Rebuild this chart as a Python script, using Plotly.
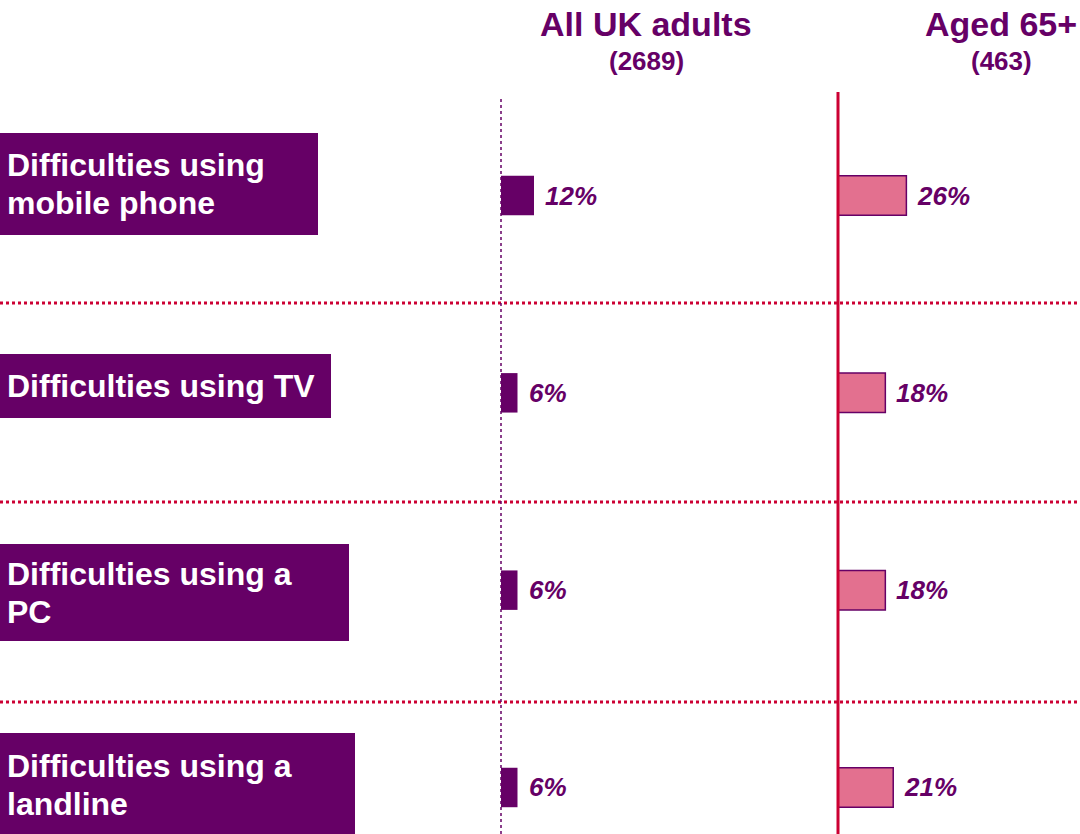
import plotly.graph_objects as go

# Survey results: share reporting difficulties with each device
categories = [
    "Difficulties using<br>mobile phone",
    "Difficulties using TV",
    "Difficulties using a<br>PC",
    "Difficulties using a<br>landline",
]
all_adults = [12, 6, 6, 6]
aged_65 = [26, 18, 18, 21]
group_titles = ["All UK adults", "Aged 65+"]
group_bases = ["(2689)", "(463)"]

PURPLE = "#660066"
PINK = "#E3708F"
RED = "#CC0033"
FONT = "Liberation Sans, Arial, sans-serif"

W, H = 1080, 834
row_ids = list(range(len(categories)))

fig = go.Figure()

fig.add_trace(go.Bar(
    y=row_ids, x=all_adults, orientation="h",
    xaxis="x", yaxis="y", width=0.2,
    marker=dict(color=PURPLE, line=dict(width=0)),
    hoverinfo="skip", showlegend=False,
))
fig.add_trace(go.Bar(
    y=row_ids, x=aged_65, orientation="h",
    xaxis="x2", yaxis="y", width=0.2,
    marker=dict(color=PINK, line=dict(color=PURPLE, width=1.5)),
    hoverinfo="skip", showlegend=False,
))

annotations = []
# value labels just past each bar end
for i, v in enumerate(all_adults):
    annotations.append(dict(
        x=v, y=i, xref="x", yref="y", text=f"<b><i>{v}%</i></b>",
        showarrow=False, xanchor="left", yanchor="middle", xshift=9,
        font=dict(family=FONT, size=26, color=PURPLE),
    ))
for i, v in enumerate(aged_65):
    annotations.append(dict(
        x=v, y=i, xref="x2", yref="y", text=f"<b><i>{v}%</i></b>",
        showarrow=False, xanchor="left", yanchor="middle", xshift=9,
        font=dict(family=FONT, size=26, color=PURPLE),
    ))

# column headings
for cx, title, base in zip([646 / W, 1001 / W], group_titles, group_bases):
    annotations.append(dict(
        x=cx, y=1 - 24 / H, xref="paper", yref="paper", text=f"<b>{title}</b>",
        showarrow=False, xanchor="center", yanchor="middle",
        font=dict(family=FONT, size=34, color=PURPLE),
    ))
    annotations.append(dict(
        x=cx, y=1 - 61 / H, xref="paper", yref="paper", text=f"<b>{base}</b>",
        showarrow=False, xanchor="center", yanchor="middle",
        font=dict(family=FONT, size=26, color=PURPLE),
    ))

# category label boxes on the left (tight line spacing inside each box)
boxes = [(0, 318, 133, 235, 184), (0, 331, 354, 418, 386),
         (0, 349, 544, 641, 593), (0, 355, 733, 840, 785)]
LINE_GAP = 38
shapes = []
for (x0, x1, y0, y1, yc), label in zip(boxes, categories):
    shapes.append(dict(
        type="rect", xref="paper", yref="paper",
        x0=x0 / W, x1=x1 / W, y0=1 - y1 / H, y1=1 - y0 / H,
        fillcolor=PURPLE, line=dict(width=0), layer="below",
    ))
    lines = label.split("<br>")
    first = yc - LINE_GAP * (len(lines) - 1) / 2
    for j, line in enumerate(lines):
        annotations.append(dict(
            x=5 / W, y=1 - (first + j * LINE_GAP) / H,
            xref="paper", yref="paper",
            text=f"<b>{line}</b>", showarrow=False, align="left",
            xanchor="left", yanchor="middle",
            font=dict(family=FONT, size=32, color="white"),
        ))

# row separators
for yy in [303, 502, 702]:
    shapes.append(dict(
        type="line", xref="paper", yref="paper", x0=0, x1=1,
        y0=1 - yy / H, y1=1 - yy / H,
        line=dict(color=RED, width=3, dash="dot"), layer="below",
    ))

# baselines of the two columns
shapes.append(dict(
    type="line", xref="x", yref="paper", x0=0, x1=0, y0=0, y1=1 - 98 / H,
    line=dict(color=PURPLE, width=1.5, dash="dot"), layer="above",
))
shapes.append(dict(
    type="line", xref="x2", yref="paper", x0=0, x1=0, y0=0, y1=1 - 92 / H,
    line=dict(color=RED, width=3), layer="above",
))

k1, k2 = 2.75, 2.63
fig.update_layout(
    width=W, height=H,
    margin=dict(l=0, r=0, t=0, b=0),
    paper_bgcolor="white", plot_bgcolor="white",
    barmode="overlay",
    xaxis=dict(range=[-501 / k1, (W - 501) / k1], domain=[0, 1],
               visible=False, fixedrange=True),
    xaxis2=dict(range=[-838 / k2, (W - 838) / k2], overlaying="x",
                visible=False, fixedrange=True),
    yaxis=dict(range=[(H - 195.5) / 197.33, -195.5 / 197.33],
               visible=False, fixedrange=True),
    shapes=shapes, annotations=annotations,
    showlegend=False,
)

fig.write_html("out.html")
